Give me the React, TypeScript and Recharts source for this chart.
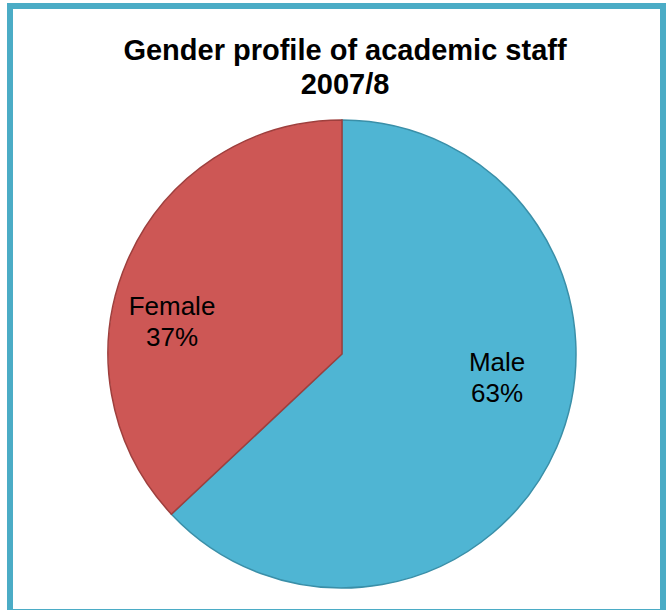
import React from "react";
import { PieChart, Pie, Cell } from "recharts";

const categories = ["Male", "Female"];
const values = [63, 37];
const titleLines = ["Gender profile of academic staff", "2007/8"];

const COLORS = ["#4FB5D3", "#CD5755"];
const STROKES = ["#3A8FA8", "#9E3F3D"];
// label placement tweaks (angle shift in degrees, radius fraction)
const LABEL_LAYOUT: Record<string, { dA: number; rf: number }> = {
  Male: { dA: 15, rf: 0.67 },
  Female: { dA: 12.4, rf: 0.74 },
};

const data = categories.map((name, i) => ({ name, value: values[i] }));
const total = values.reduce((a, b) => a + b, 0);

const RAD = Math.PI / 180;

const renderLabel = (props: any) => {
  const { cx, cy, midAngle, outerRadius, name, value } = props;
  const lay = LABEL_LAYOUT[name] || { dA: 0, rf: 0.7 };
  const a = (midAngle + lay.dA) * RAD;
  const r = outerRadius * lay.rf;
  const x = cx + r * Math.cos(a);
  const y = cy - r * Math.sin(a);
  const pct = Math.round((value / total) * 100);
  return (
    <text
      x={x}
      y={y}
      textAnchor="middle"
      fill="#000"
      fontFamily="'Liberation Sans', Arial, sans-serif"
      fontSize={26}
    >
      <tspan x={x} y={y - 6}>{name}</tspan>
      <tspan x={x} y={y + 25}>{pct}%</tspan>
    </text>
  );
};

export default function App() {
  return (
    <div style={{ position: "absolute", left: 0, top: 0, width: 667, height: 610, overflow: "hidden", background: "#fff" }}>
      <div
        style={{
          position: "absolute",
          left: 7,
          top: 3,
          width: 659,
          height: 612,
          boxSizing: "border-box",
          border: "6px solid #4BACC6",
        }}
      />
      <div
        style={{
          position: "absolute",
          left: 0,
          top: 33,
          width: 690,
          textAlign: "center",
          fontFamily: "'Liberation Sans', Arial, sans-serif",
          fontWeight: "bold",
          fontSize: 29,
          lineHeight: "34px",
          color: "#000",
        }}
      >
        {titleLines.map((t) => (
          <div key={t}>{t}</div>
        ))}
      </div>
      <div style={{ position: "absolute", left: 0, top: 0 }}>
        <PieChart width={667} height={610}>
          <Pie
            data={data}
            dataKey="value"
            nameKey="name"
            cx={337}
            cy={349}
            outerRadius={234}
            startAngle={90}
            endAngle={-270}
            isAnimationActive={false}
            label={renderLabel}
            labelLine={false}
          >
            {data.map((d, i) => (
              <Cell key={d.name} fill={COLORS[i]} stroke={STROKES[i]} strokeWidth={1.5} />
            ))}
          </Pie>
        </PieChart>
      </div>
    </div>
  );
}
